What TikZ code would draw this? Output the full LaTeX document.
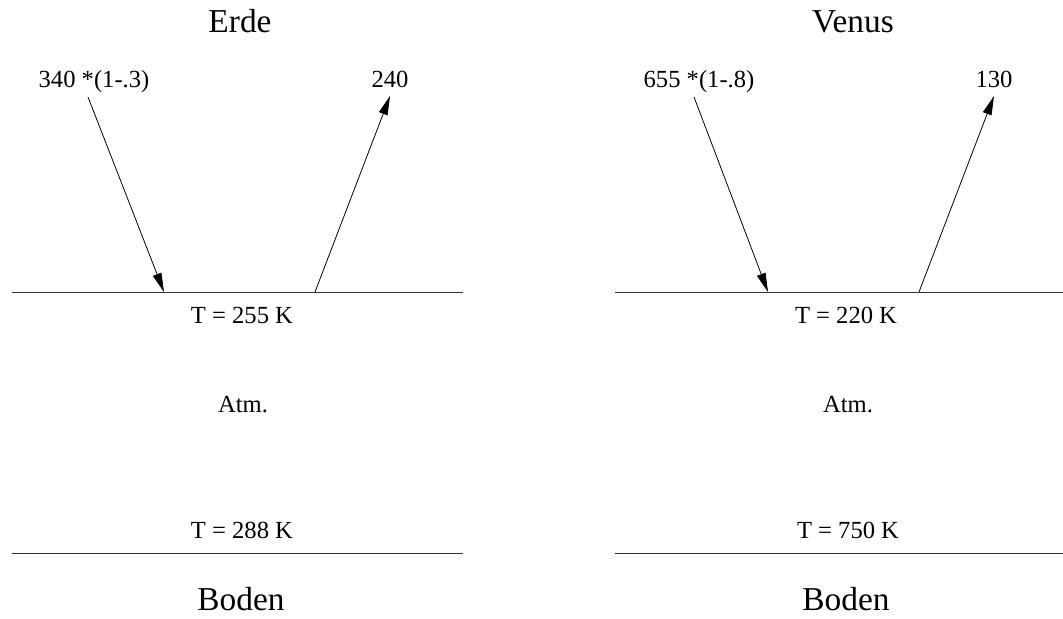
\documentclass[tikz,border=0pt]{standalone}
\usepackage{fontspec}
\setmainfont{Liberation Serif}
\usepackage{tikz}
\usetikzlibrary{arrows.meta}

\begin{document}
\begin{tikzpicture}[
    x=0.02cm, y=-0.02cm,
    title/.style={font=\fontsize{19}{22}\selectfont, inner sep=0pt, anchor=base},
    lab/.style={font=\fontsize{14}{16}\selectfont, inner sep=0pt, anchor=base},
    layer/.style={line width=0.5pt, draw=black!80},
    ar/.style={-{Triangle[length=3.8mm, width=1.8mm]}, line width=0.45pt},
  ]
    \useasboundingbox (0,0) rectangle (1063,619);
    % Erde (left)
    \node[title] (erde)   at (240,32)  {Erde};
    \node[lab]   (einL)   at (94,87)   {340 *(1-.3)};
    \node[lab]   (eoutL)  at (390,87)  {240};
    \node[lab]   (etop)   at (242,323) {T = 255 K};
    \node[lab]   (eatm)   at (243,412) {Atm.};
    \node[lab]   (ebot)   at (242,538) {T = 288 K};
    \node[title] (eboden) at (241,610) {Boden};
    \draw[layer] (12,292) -- (463,292);
    \draw[layer] (12,553) -- (463,553);
    \coordinate (ein1)  at (88,97);
    \coordinate (ein2)  at (164,292);
    \coordinate (eout1) at (315,292);
    \coordinate (eout2) at (390,96);
    \draw[ar] (ein1) -- (ein2);
    \draw[ar] (eout1) -- (eout2);
    % Venus (right)
    \node[title] (venus)  at (853,32)  {Venus};
    \node[lab]   (vinL)   at (699,87)  {655 *(1-.8)};
    \node[lab]   (voutL)  at (994,87)  {130};
    \node[lab]   (vtop)   at (846,323) {T = 220 K};
    \node[lab]   (vatm)   at (848,412) {Atm.};
    \node[lab]   (vbot)   at (848,538) {T = 750 K};
    \node[title] (vboden) at (846,610) {Boden};
    \draw[layer] (615,292) -- (1063,292);
    \draw[layer] (615,553) -- (1063,553);
    \coordinate (vin1)  at (694,97);
    \coordinate (vin2)  at (768,292);
    \coordinate (vout1) at (919,292);
    \coordinate (vout2) at (994,96);
    \draw[ar] (vin1) -- (vin2);
    \draw[ar] (vout1) -- (vout2);
\end{tikzpicture}
\end{document}
